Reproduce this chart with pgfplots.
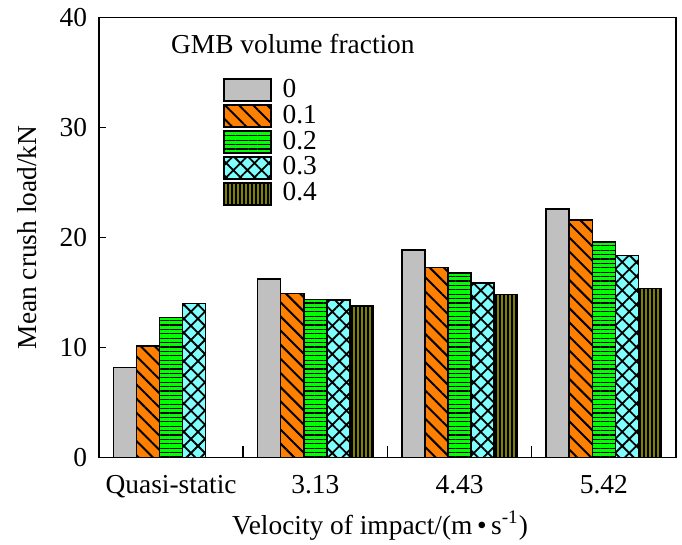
\documentclass[border=0pt]{standalone}
\usepackage{pgfplots}
\pgfplotsset{compat=1.18}
\usepackage{fontspec}
\setmainfont{Liberation Serif}
\usetikzlibrary{patterns.meta}
\definecolor{cgray}{HTML}{C0C0C0}
\definecolor{corange}{HTML}{FF8000}
\definecolor{cgreen}{HTML}{00FF00}
\definecolor{ccyan}{HTML}{80FFFF}
\definecolor{colive}{HTML}{808000}
\begin{document}
\begin{tikzpicture}[font=\fontsize{13.7}{16}\selectfont]
\path[use as bounding box] (-49.5pt,-43.85pt) rectangle (291.5pt,228.65pt);
\begin{axis}[
  scale only axis, width=288.5pt, height=219.8pt,
  at={(0,0)}, anchor=south west,
  xmin=-0.5, xmax=3.5, ymin=0, ymax=40,
  ybar, bar width=0.16,
  xtick={0,1,2,3}, xticklabels={Quasi-static,3.13,4.43,5.42},
  minor xtick={0,0.5,1,1.5,2,2.5,3},
  major x tick style={draw=none},
  ytick={0,10,20,30,40},
  tick align=inside, tick pos=left,
  major tick length=3.5pt, minor tick length=5.5pt,
  tick style={line width=0.75pt, black},
  axis line style={line width=0.75pt},
  /pgf/number format/assume math mode=true,
  xticklabel style={anchor=base, yshift=-18pt},
  yticklabel style={xshift=-2.4pt},
  every axis x label/.style={at={(axis description cs:0.487,0)}, yshift=-38.5pt, anchor=base},
  every axis y label/.style={at={(axis description cs:0,0.5)}, xshift=-31.15pt, rotate=90, anchor=base},
  xlabel={Velocity of impact/(m\,•\,s\textsuperscript{-1})},
  ylabel={Mean crush load/kN},
  legend image code/.code={\draw[#1] (0pt,-5.5pt) rectangle (23.5pt,5.5pt);},
  legend cell align=left,
  legend style={draw=none, fill=none, at={(0.2144,0.866)}, anchor=north west,
    inner sep=0pt, /tikz/row sep=0pt, /tikz/column sep=5pt,
    nodes={inner sep=0.5pt, text height=9.5pt, text depth=2.5pt, anchor=west}},
]
\addplot[fill=cgray, draw=black, line width=0.75pt, bar shift=-0.32]
  coordinates {(0,8.15) (1,16.22) (2,18.84) (3,22.59)};
\addplot[fill=corange, draw=black, line width=0.75pt, bar shift=-0.16,
  postaction={pattern={Lines[angle=-45,distance=5pt,line width=1pt]}, pattern color=black}]
  coordinates {(0,10.13) (1,14.92) (2,17.25) (3,21.59)};
\addplot[fill=cgreen, draw=black, line width=0.75pt, bar shift=0,
  postaction={pattern={Lines[angle=0,distance=2.2pt,line width=0.6pt]}, pattern color=black}]
  coordinates {(0,12.74) (1,14.38) (2,16.77) (3,19.59)};
\addplot[fill=ccyan, draw=black, line width=0.75pt, bar shift=0.16,
  postaction={pattern={Hatch[angle=45,distance=5pt,line width=0.9pt]}, pattern color=black}]
  coordinates {(0,14.01) (1,14.31) (2,15.86) (3,18.38)};
\addplot[fill=colive, draw=black, line width=0.75pt, bar shift=0.32,
  postaction={pattern={Lines[angle=90,distance=2pt,line width=0.6pt]}, pattern color=black}]
  coordinates {(1,13.77) (2,14.80) (3,15.34)};
\legend{0,0.1,0.2,0.3,0.4}
\node[anchor=base] at (axis description cs:0.336,0.919) {GMB volume fraction};
\end{axis}
\end{tikzpicture}
\end{document}
